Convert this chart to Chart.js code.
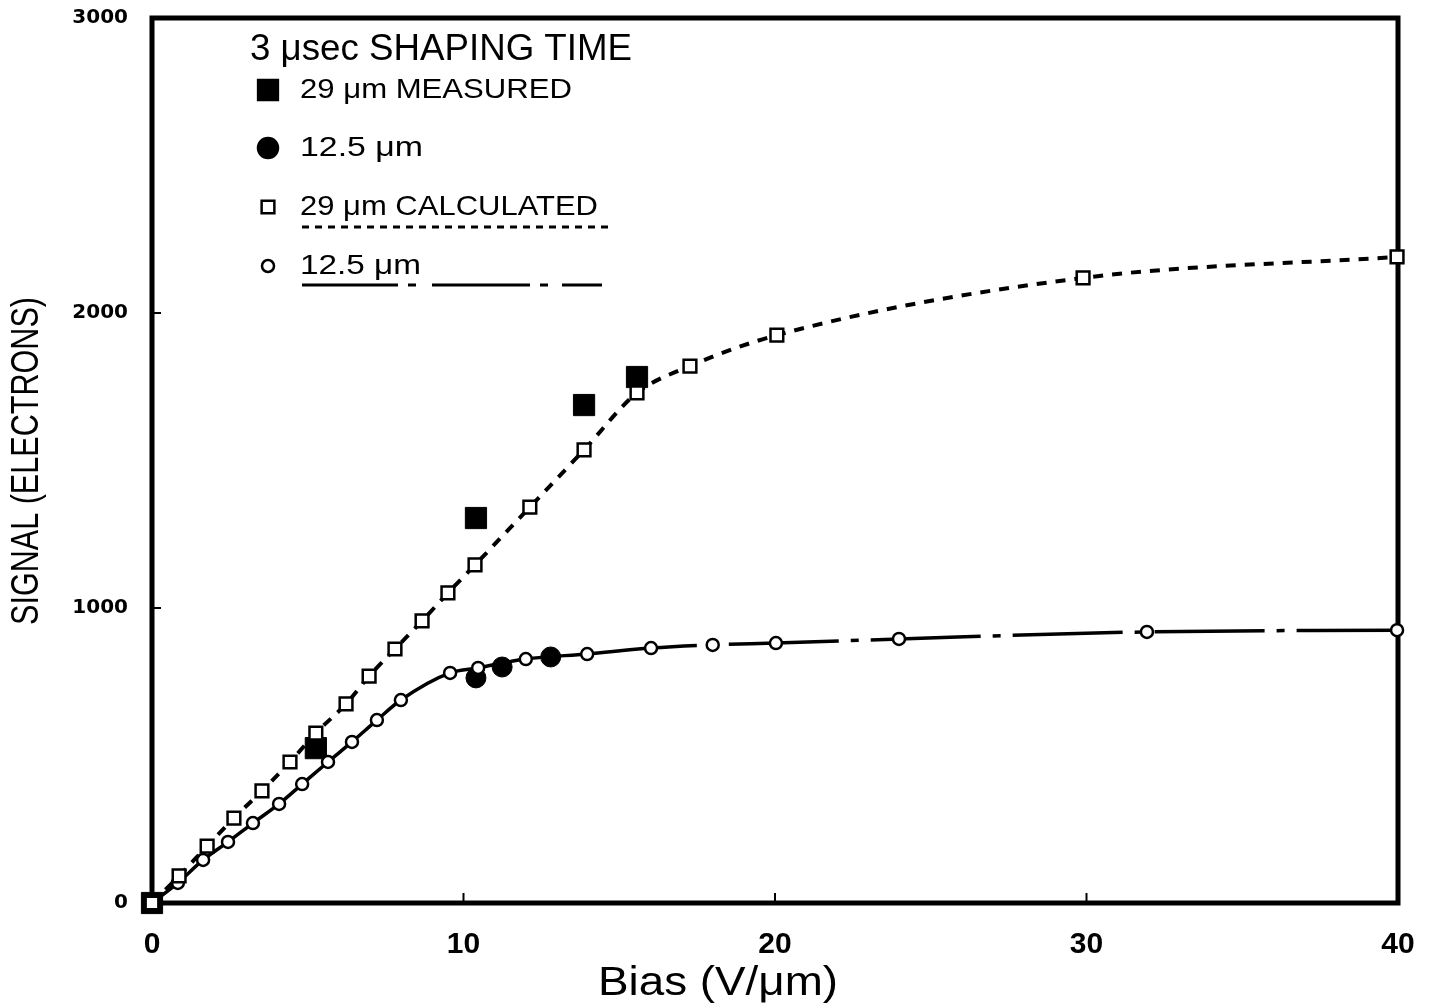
<!DOCTYPE html>
<html>
<head>
<meta charset="utf-8">
<script src="https://cdn.jsdelivr.net/npm/chart.js@4"></script>
<style>
html, body { margin: 0; padding: 0; background: #fff; }
#wrap { width: 1431px; height: 1008px; position: relative; }
</style>
</head>
<body>
<div id="wrap"><canvas id="graphCanvas"></canvas></div>
<script>
//////////////// data ////////////////
var calc29X = [0, 0.87, 1.77, 2.63, 3.53, 4.43, 5.26, 6.23, 6.97, 7.8, 8.67, 9.5, 10.37, 12.13, 13.87, 15.57, 17.27, 20.06, 29.89, 39.97];
var calc29Y = [0, 92, 193, 288, 380, 478, 576, 675, 769, 861, 956, 1051, 1146, 1342, 1536, 1729, 1820, 1925, 2119, 2190];

var calc12X = [0, 0.83, 1.64, 2.44, 3.24, 4.08, 4.82, 5.65, 6.42, 7.22, 7.99, 9.57, 10.47, 12.0, 13.97, 16.02, 18.0, 20.03, 23.98, 31.94, 39.97];
var calc12Y = [0, 68, 146, 207, 271, 336, 403, 478, 546, 620, 688, 780, 797, 827, 844, 864, 875, 881, 895, 919, 925];

var meas29X = [0, 5.26, 10.4, 13.87, 15.57];
var meas29Y = [0, 525, 1305, 1688, 1783];

var meas12X = [10.4, 11.24, 12.8];
var meas12Y = [763, 800, 834];

var xTicks = [0, 10, 20, 30, 40];
var yTicks = [0, 1000, 2000, 3000];

var legendTitle = "3 \u03bcsec SHAPING TIME";
var legendLabels = ["29 \u03bcm MEASURED", "12.5 \u03bcm", "29 \u03bcm CALCULATED", "12.5 \u03bcm"];
var xTitle = "Bias (V/\u03bcm)";
var yTitle = "SIGNAL (ELECTRONS)";

function pts(xs, ys) {
    var out = [];
    for (var i in xs) {
        out.push({x: xs[i], y: ys[i]});
    }
    return out;
}

// draw text squeezed/stretched to a given width
function fitText(ctx, text, x, y, width, font, align) {
    ctx.save();
    ctx.font = font;
    var w = ctx.measureText(text).width;
    var s = width / w;
    ctx.translate(x, y);
    ctx.scale(s, 1);
    ctx.textAlign = align || 'left';
    ctx.textBaseline = 'middle';
    ctx.fillStyle = '#000';
    ctx.fillText(text, 0, 0);
    ctx.restore();
}

function marker(ctx, style, x, y, r, filled) {
    ctx.save();
    ctx.fillStyle = filled ? '#000' : '#fff';
    ctx.strokeStyle = '#000';
    ctx.lineWidth = 2.5;
    ctx.beginPath();
    if (style === 'rect') {
        var h = r * Math.SQRT1_2;
        ctx.rect(x - h, y - h, 2 * h, 2 * h);
    } else {
        ctx.arc(x, y, r, 0, Math.PI * 2);
    }
    ctx.fill();
    ctx.stroke();
    ctx.restore();
}

function noPad(s) {
    s.paddingTop = 0;
    s.paddingBottom = 0;
    s.paddingLeft = 0;
    s.paddingRight = 0;
}

var decor = {
    id: 'decor',
    beforeDatasetsDraw: function (chart) {
        var ctx = chart.ctx, a = chart.chartArea;
        var xs = chart.scales.x, ys = chart.scales.y;
        ctx.save();
        ctx.strokeStyle = '#000';
        ctx.lineWidth = 5;
        ctx.strokeRect(a.left, a.top, a.right - a.left, a.bottom - a.top);
        // inward tick marks
        ctx.lineWidth = 2;
        [10, 20, 30].forEach(function (v) {
            var px = xs.getPixelForValue(v);
            ctx.beginPath();
            ctx.moveTo(px, a.bottom);
            ctx.lineTo(px, a.bottom - 10);
            ctx.stroke();
        });
        [1000, 2000].forEach(function (v) {
            var py = ys.getPixelForValue(v);
            ctx.beginPath();
            ctx.moveTo(a.left, py);
            ctx.lineTo(a.left + 9, py);
            ctx.stroke();
        });
        ctx.restore();
    },
    afterDraw: function (chart) {
        var ctx = chart.ctx;
        // legend block
        fitText(ctx, legendTitle, 250, 50, 382, '36px "Liberation Sans"');
        var rows = [90, 148, 207, 266];
        var widths = [272, 123, 298, 121];
        marker(ctx, 'rect', 268, rows[0], 14, true);
        marker(ctx, 'circle', 268, rows[1], 10, true);
        marker(ctx, 'rect', 268, rows[2], 9, false);
        marker(ctx, 'circle', 268, rows[3], 6, false);
        for (var i = 0; i < 4; i++) {
            fitText(ctx, legendLabels[i], 300, rows[i], widths[i], '28px "Liberation Sans"');
        }
        ctx.save();
        ctx.strokeStyle = '#000';
        ctx.lineWidth = 3;
        ctx.setLineDash([7, 6]);
        ctx.beginPath();
        ctx.moveTo(302, 227);
        ctx.lineTo(608, 227);
        ctx.stroke();
        ctx.setLineDash([96, 10, 8, 16, 98, 10, 8, 14, 40]);
        ctx.beginPath();
        ctx.moveTo(302, 285);
        ctx.lineTo(608, 285);
        ctx.stroke();
        ctx.restore();
        // axis titles
        ctx.save();
        ctx.translate(28, 461);
        ctx.rotate(-Math.PI / 2);
        fitText(ctx, yTitle, 0, 0, 328, '38px "Liberation Sans"', 'center');
        ctx.restore();
        fitText(ctx, xTitle, 718, 984, 240, '40px "Liberation Sans"', 'center');
    }
};

var chartdata = {
    datasets: [
        {
            label: '29 um calculated',
            data: pts(calc29X, calc29Y),
            showLine: true,
            cubicInterpolationMode: 'monotone',
            borderColor: '#000',
            borderWidth: 4,
            borderDash: [10, 9],
            pointStyle: 'rect',
            pointRadius: 9,
            pointBackgroundColor: '#fff',
            pointBorderColor: '#000',
            pointBorderWidth: 2.5
        },
        {
            label: '12.5 um calculated',
            data: pts(calc12X, calc12Y),
            showLine: true,
            cubicInterpolationMode: 'monotone',
            borderColor: '#000',
            borderWidth: 3.5,
            segment: {
                borderDash: function (c) {
                    return c.p0.parsed.x >= 13.9 ? [110, 12, 8, 12] : undefined;
                }
            },
            pointStyle: 'circle',
            pointRadius: 6,
            pointBackgroundColor: '#fff',
            pointBorderColor: '#000',
            pointBorderWidth: 2.5
        },
        {
            label: '29 um measured',
            data: pts(meas29X, meas29Y),
            showLine: false,
            pointStyle: 'rect',
            pointRadius: 15,
            pointBackgroundColor: '#000',
            pointBorderColor: '#000',
            pointBorderWidth: 1
        },
        {
            label: '12.5 um measured',
            data: pts(meas12X, meas12Y),
            showLine: false,
            pointStyle: 'circle',
            pointRadius: 10,
            pointBackgroundColor: '#000',
            pointBorderColor: '#000',
            pointBorderWidth: 1
        }
    ]
};

var graph = new Chart(document.getElementById('graphCanvas'), {
    type: 'scatter',
    data: chartdata,
    plugins: [decor],
    options: {
        responsive: true,
        maintainAspectRatio: false,
        devicePixelRatio: 1,
        animation: false,
        clip: false,
        layout: { padding: { top: 18, right: 33, left: 0, bottom: 0 } },
        plugins: { legend: { display: false }, tooltip: { enabled: false } },
        scales: {
            x: {
                type: 'linear',
                min: 0, max: 40,
                afterFit: function (s) { s.height = 105; noPad(s); },
                afterBuildTicks: function (s) { s.ticks = xTicks.map(function (v) { return {value: v}; }); },
                grid: { display: false, drawTicks: false },
                border: { display: false },
                ticks: {
                    color: '#000', padding: 24,
                    font: { family: 'Liberation Sans', size: 30, weight: 'bold' },
                    callback: function (v) { return String(v); }
                }
            },
            y: {
                type: 'linear',
                min: 0, max: 3000,
                afterFit: function (s) { s.width = 152; noPad(s); },
                afterBuildTicks: function (s) { s.ticks = yTicks.map(function (v) { return {value: v}; }); },
                grid: { display: false, drawTicks: false },
                border: { display: false },
                ticks: {
                    color: '#000', padding: 24,
                    font: { family: 'DejaVu Sans', size: 20, weight: 'bold' },
                    callback: function (v) { return String(v); }
                }
            }
        }
    }
});
</script>
</body>
</html>
